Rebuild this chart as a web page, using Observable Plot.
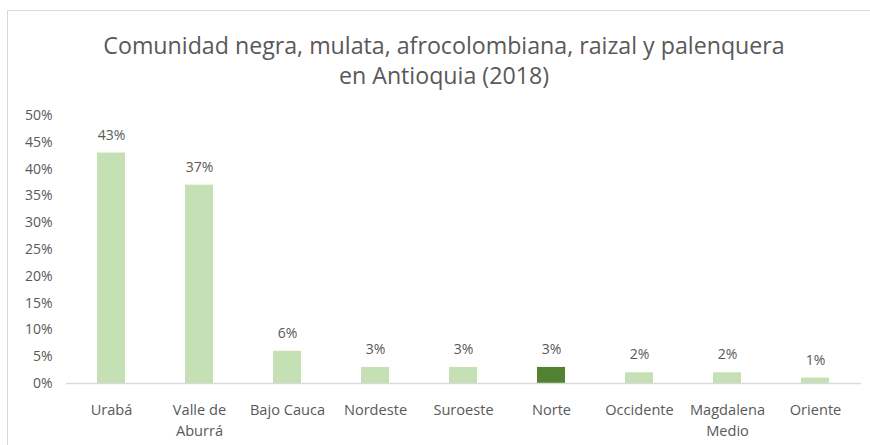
<!DOCTYPE html>
<html>
<head>
<meta charset="utf-8">
<script src="https://cdn.jsdelivr.net/npm/d3@7"></script>
<script src="https://cdn.jsdelivr.net/npm/@observablehq/plot@0.6"></script>
<style>
  html, body { margin: 0; padding: 0; background: #fff; width: 870px; height: 445px; overflow: hidden; }
  #frame { position: absolute; left: 7px; top: 10px; width: 900px; height: 480px; border: 1.5px solid #d9d9d9; box-sizing: border-box; }
  #title { position: absolute; left: 0; top: 30px; width: 888px; text-align: center; font-family: "Open Sans", sans-serif; font-size: 23.2px; line-height: 30px; color: #595959; }
  #chart { position: absolute; left: 0; top: 100px; }
</style>
</head>
<body>
<div id="frame"></div>
<div id="title">Comunidad negra, mulata, afrocolombiana, raizal y palenquera<br>en Antioquia (2018)</div>
<div id="chart"></div>
<script>
const regions = ["Urabá", "Valle de Aburrá", "Bajo Cauca", "Nordeste", "Suroeste", "Norte", "Occidente", "Magdalena Medio", "Oriente"];
const tickLabels = ["Urabá", "Valle de\nAburrá", "Bajo Cauca", "Nordeste", "Suroeste", "Norte", "Occidente", "Magdalena\nMedio", "Oriente"];
const shares = [0.43, 0.37, 0.06, 0.03, 0.03, 0.03, 0.02, 0.02, 0.01];
const highlight = "Norte";
const yTicks = [0, 0.05, 0.10, 0.15, 0.20, 0.25, 0.30, 0.35, 0.40, 0.45, 0.50];

const data = regions.map((r, i) => ({region: r, share: shares[i], label: tickLabels[i]}));
const labelOf = new Map(data.map(d => [d.region, d.label]));
const pct = d3.format(".0%");

const chart = Plot.plot({
  width: 870,
  height: 345,
  marginLeft: 66,
  marginRight: 9,
  marginTop: 15,
  marginBottom: 62,
  style: {fontFamily: "'Open Sans', sans-serif", fontSize: "14px", color: "#595959", background: "transparent"},
  x: {domain: regions, paddingInner: 0.68, paddingOuter: 0.34, align: 0.5},
  y: {domain: [0, 0.5]},
  marks: [
    Plot.axisY({ticks: yTicks, tickFormat: pct, tickSize: 0, tickPadding: 14, label: null, fontSize: 14, fill: "#595959"}),
    Plot.axisX({tickSize: 0, tickPadding: 16, label: null, tickFormat: d => labelOf.get(d), lineHeight: 1.45, fontSize: 14.6, fill: "#595959", textAnchor: "middle"}),
    Plot.barY(data, {x: "region", y: "share", fill: d => d.region === highlight ? "#548235" : "#C5E0B4"}),
    Plot.ruleY([0], {stroke: "#d9d9d9", strokeWidth: 1.5}),
    Plot.text(data, {x: "region", y: "share", text: d => pct(d.share), dy: -18, fontSize: 14, fill: "#595959"})
  ]
});
document.getElementById("chart").appendChild(chart);
</script>
</body>
</html>
